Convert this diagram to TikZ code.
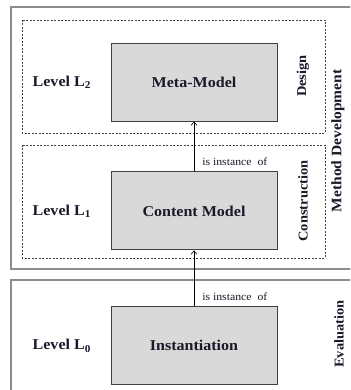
\documentclass[tikz,border=0pt]{standalone}
\usepackage{fontspec}
\setmainfont[FakeStretch=1.07]{Liberation Serif}
\usepackage{tikz}
\usetikzlibrary{positioning}
\usetikzlibrary{arrows.meta}
\definecolor{boxgray}{rgb}{0.85,0.85,0.85}
\definecolor{framegray}{rgb}{0.55,0.55,0.55}
\definecolor{inkdark}{rgb}{0.1,0.1,0.16}

\begin{document}
\begin{tikzpicture}[
            x = 1pt, y = 1pt,
            > = {Straight Barb[length=3.5pt, width=6pt]}, % open arrow head
            semithick, % line style
            text = inkdark
        ]

        \tikzstyle{model}=[
            draw = darkgray,
            fill = boxgray,
            line width = 0.9pt,
            minimum width = 166pt,
            minimum height = 78pt,
            font = \bfseries\fontsize{15}{18}\selectfont
        ]
        \tikzstyle{level}=[font = \bfseries\fontsize{15}{18}\selectfont]
        \tikzstyle{phase}=[rotate = 90, font = \bfseries\fontsize{13.5}{16}\selectfont]
        \tikzstyle{relation}=[font = \fontsize{11}{13}\selectfont, inner sep = 1pt]
        \tikzstyle{frame}=[draw = framegray, line width = 1.3pt]
        \tikzstyle{stage}=[draw = darkgray, thin, dash pattern = on 2pt off 1.5pt]

        \clip (0,0) rectangle (350,390);

        % outer frames
        \draw[frame] (11,383) rectangle (360,121);
        \draw[frame] (11,110) rectangle (360,-10);

        % dashed stages
        \draw[stage] (22,370) rectangle (325,257);
        \draw[stage] (22,245) rectangle (325,132);

        % models
        \node[model] (Meta) at (194,308) {Meta-Model};
        \node[model] (Content) [below = 50pt of Meta] {Content Model};
        \node[model] (Inst) [below = 56pt of Content] {Instantiation};

        % levels
        \node[level] (L2) [left = 16pt of Meta] {Level L\textsubscript{2}};
        \node[level] (L1) [left = 16pt of Content] {Level L\textsubscript{1}};
        \node[level] (L0) [left = 16pt of Inst] {Level L\textsubscript{0}};

        % phases
        \node[phase] (Design) at (303,314) {Design};
        \node[phase] (Construction) at (303,189) {Construction};
        \node[phase, font = \bfseries\fontsize{14.5}{17}\selectfont] (MethodDev) at (338,249) {Method Development};
        \node[phase] (Evaluation) at (339,56) {Evaluation};

        % instance relations
        \path[->] (Content) edge (Meta);
        \path[->] (Inst) edge (Content);
        \node[relation, anchor = south west] (RelOne) at ([xshift=7pt, yshift=5pt]Content.north) {is instance\ \ of};
        \node[relation, anchor = south west] (RelTwo) at ([xshift=7pt, yshift=4pt]Inst.north) {is instance\ \ of};

  \end{tikzpicture}
\end{document}
